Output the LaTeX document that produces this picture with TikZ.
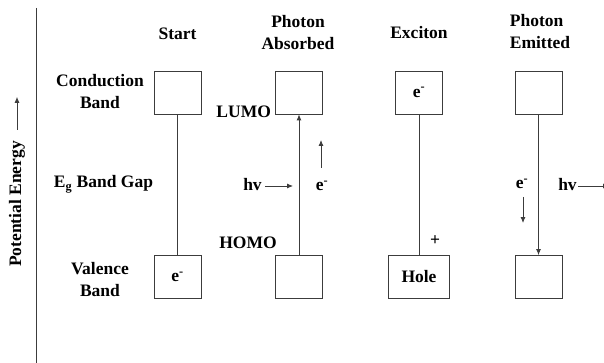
\documentclass[tikz,border=0pt]{standalone}
\usepackage{fontspec}
\setmainfont{Liberation Serif}
\usetikzlibrary{arrows.meta,positioning,calc}
\definecolor{bandline}{RGB}{60,60,60}
\tikzset{lbl/.style={font=\fontsize{17.5}{22}\selectfont\bfseries,align=center,inner sep=0pt},
  level/.style={draw=bandline,line width=0.8pt,minimum width=47pt,minimum height=43pt,inner sep=0pt,
    font=\fontsize{17.5}{22}\selectfont\bfseries},
  gapline/.style={draw=bandline,line width=0.8pt},
  pointer/.style={-{Latex[length=6pt,width=5pt]},line width=0.8pt,bandline}}

\begin{document}
\begin{tikzpicture}[x=1pt, y=-1pt]
\useasboundingbox (0,0) rectangle (604,363);
\coordinate (axtop) at (36,8);
\coordinate (axbot) at (36,363);
\draw[gapline] (axtop) -- (axbot);
\node[lbl, rotate=90] (pe) at (17,204) {Potential Energy};
\draw[pointer] ([yshift=11pt]pe.east) -- ([yshift=44pt]pe.east);
\node[lbl] (cb) at (100,92) {Conduction\\Band};
\node[lbl, anchor=base] (gap) at (103.5,188) {E\textsubscript{g} Band Gap};
\node[lbl] (vb) at (100,280) {Valence\\Band};
\node[lbl, anchor=base] (h-start) at (177.5,40) {Start};
\node[lbl] (h-abs) at (298,33) {Photon\\Absorbed};
\node[lbl, anchor=base] (h-exc) at (419,39) {Exciton};
\node[lbl, align=left] (h-emit) at (540,32) {Photon\\Emitted};
\node[level] (st-cb) at (177.5,92.5) {};
\node[level] (st-vb) at (177.5,277) {e\textsuperscript{-}};
\node[level] (ab-lumo) at (299,92.5) {};
\node[level] (ab-homo) at (299,277) {};
\node[level] (ex-cb) at (419,92.5) {e\textsuperscript{-}};
\node[level, minimum width=61pt] (ex-vb) at (419,277) {Hole};
\node[level] (em-cb) at (538.5,92.5) {};
\node[level] (em-vb) at (538.5,277) {};
\draw[gapline] (st-cb) -- (st-vb);
\draw[pointer] (ab-homo) -- (ab-lumo);
\draw[gapline] (ex-cb) -- (ex-vb);
\draw[pointer] (em-cb) -- (em-vb);
\node[lbl, anchor=base east] (lumo) at ($(ab-lumo.south west)+(-4,3)$) {LUMO};
\node[lbl, anchor=base] (homo) at (248,248) {HOMO};
\node[lbl, anchor=base] (hv-in) at (252.5,191) {hv};
\coordinate (hv-in-tip) at (293,186);
\draw[pointer] ([xshift=3pt]hv-in.east |- hv-in-tip) -- (hv-in-tip);
\node[lbl, anchor=base] (e-up) at (322,191) {e\textsuperscript{-}};
\coordinate (e-up-tail) at (321,168);
\coordinate (e-up-tip) at (321,140);
\draw[pointer] (e-up-tail) -- (e-up-tip);
\node[lbl, anchor=base] (hole-plus) at (435,245) {+};
\node[lbl, anchor=base] (e-down) at (522,189) {e\textsuperscript{-}};
\coordinate (e-down-tail) at (523,197);
\coordinate (e-down-tip) at (523,223);
\draw[pointer] (e-down-tail) -- (e-down-tip);
\node[lbl, anchor=base] (hv-out) at (567.5,191) {hv};
\coordinate (hv-out-tip) at (609,186);
\draw[pointer] ([xshift=1pt]hv-out.east |- hv-out-tip) -- (hv-out-tip);
\end{tikzpicture}
\end{document}
